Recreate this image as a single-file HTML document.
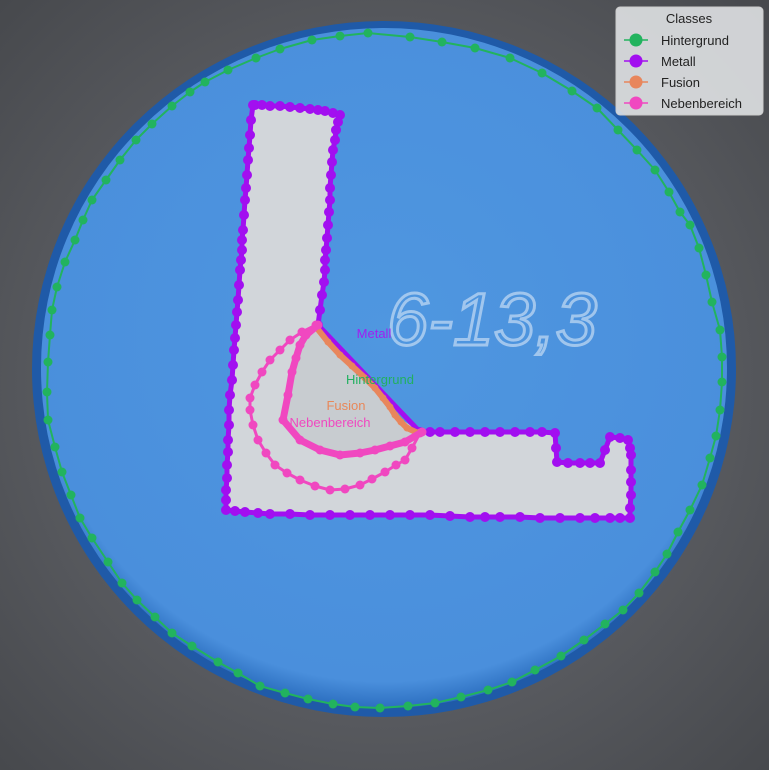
<!DOCTYPE html>
<html><head><meta charset="utf-8">
<style>
html,body{margin:0;padding:0;background:#4a4c50;}
svg{display:block;}
text{font-family:"Liberation Sans",sans-serif;}
</style></head>
<body>
<svg id="chart" width="769" height="770" viewBox="0 0 769 770">
<defs>
<radialGradient id="bg" cx="50%" cy="50%" r="75%">
<stop offset="0" stop-color="#72747a"/><stop offset="1" stop-color="#44464a"/>
</radialGradient>
<radialGradient id="disk" cx="50%" cy="45%" r="55%">
<stop offset="0" stop-color="#4f97e0"/><stop offset="0.93" stop-color="#4a8fdc"/><stop offset="1" stop-color="#2c6fc0"/>
</radialGradient>
</defs>
<rect x="0" y="0" width="769" height="770" fill="url(#bg)"/>
<ellipse cx="384" cy="369" rx="352" ry="348" fill="#1f5aa8"/>
<ellipse cx="384" cy="368" rx="343" ry="340" fill="url(#disk)"/>
<polygon points="253,103 340,113 332,140 328,200 324,270 318,325 330,345 360,375 395,415 420,432 555,432 556,462 602,463 610,436 630,438 632,470 630,518 540,518 430,516 330,515 226,510 228,440 232,380 238,300 242,230 248,160" fill="#d2d6da"/>
<polygon points="318,325 300,345 292,372 283,420 300,440 340,455 375,450 405,442 420,432 395,415 360,375" fill="#c8ccd0"/>
<text x="492" y="345" font-size="74" font-style="italic" fill="none" stroke="#c4dcf4" stroke-width="3" stroke-opacity="0.7" text-anchor="middle">6-13,3</text>
<g id="layers"></g>
<text x="374" y="338" font-size="13" fill="#a020f0" text-anchor="middle">Metall</text>
<text x="380" y="384" font-size="13" fill="#22b060" text-anchor="middle">Hintergrund</text>
<text x="346" y="410" font-size="13" fill="#e8885a" text-anchor="middle">Fusion</text>
<text x="330" y="427" font-size="13" fill="#f048c0" text-anchor="middle">Nebenbereich</text>
<g>
<rect x="616" y="7" width="147" height="108" rx="4" fill="#e8eaec" fill-opacity="0.85" stroke="#cccccc"/>
<text x="689" y="23" font-size="13" fill="#222" text-anchor="middle">Classes</text>
<g id="legend-entries"></g>
</g>
</svg>
<script>
const classNames = ["Hintergrund","Metall","Fusion","Nebenbereich"];
const classColors = ["#22b35e","#a20ff0","#e8865c","#f048c0"];
const hintergrundPoints = [[368,33],[410,37],[442,42],[475,48],[510,58],[542,73],[572,91],[597,108],[618,130],[637,150],[655,170],[669,192],[680,212],[690,225],[699,248],[706,275],[712,302],[720,330],[722,357],[722,382],[720,410],[716,436],[710,458],[702,485],[690,510],[678,532],[667,554],[655,572],[639,593],[623,610],[605,624],[584,640],[561,656],[535,670],[512,682],[488,690],[461,697],[435,703],[408,706],[380,708],[355,707],[333,704],[308,699],[285,693],[260,686],[238,673],[218,662],[192,646],[172,633],[155,617],[137,600],[122,583],[108,562],[92,538],[80,518],[71,495],[62,472],[55,447],[48,420],[47,392],[48,362],[50,335],[52,310],[57,287],[65,262],[75,240],[83,220],[92,200],[106,180],[120,160],[136,140],[152,124],[172,106],[190,92],[205,82],[228,70],[256,58],[280,49],[312,40],[340,36]];
const metallPoints = [[255,105],[262,105],[270,106],[280,106],[290,107],[300,108],[310,109],[318,110],[325,111],[333,113],[340,115],[338,122],[336,130],[335,140],[333,150],[332,162],[331,175],[330,188],[330,200],[329,212],[328,225],[327,238],[326,250],[325,260],[325,270],[324,282],[322,295],[320,310],[318,325],[420,432],[430,432],[440,432],[455,432],[470,432],[485,432],[500,432],[515,432],[530,432],[542,432],[555,433],[556,448],[557,462],[568,463],[580,463],[590,463],[600,463],[605,450],[610,437],[620,438],[628,440],[630,448],[631,455],[631,470],[631,482],[631,495],[630,508],[630,518],[620,518],[610,518],[595,518],[580,518],[560,518],[540,518],[520,517],[500,517],[485,517],[470,517],[450,516],[430,515],[410,515],[390,515],[370,515],[350,515],[330,515],[310,515],[290,514],[270,514],[258,513],[245,512],[235,511],[226,510],[226,500],[226,490],[227,478],[227,465],[228,452],[228,440],[229,425],[229,410],[230,395],[232,380],[233,365],[234,350],[235,338],[236,325],[237,312],[238,300],[239,285],[240,270],[241,260],[242,250],[242,240],[243,230],[244,215],[245,200],[246,188],[247,175],[248,160],[249,148],[250,135],[251,120],[253,105]];
const fusionPoints = [[316,327],[328,342],[340,355],[352,366],[365,378],[375,388],[383,398],[390,407],[395,415],[401,422],[407,428],[418,433]];
const nebenInnerPoints = [[318,325],[306,335],[300,345],[296,358],[292,372],[288,395],[283,420],[300,440],[320,450],[340,455],[360,453],[375,450],[390,446],[405,442],[422,432]];
const nebenOuterPoints = [[316,325],[302,332],[290,340],[280,350],[270,360],[262,372],[255,385],[250,398],[250,410],[253,425],[258,440],[266,453],[275,465],[287,473],[300,480],[315,486],[330,490],[345,489],[360,485],[372,479],[385,472],[396,465],[405,460],[412,448],[420,433]];

const ns = "http://www.w3.org/2000/svg";
const layers = document.getElementById("layers");
function ptsStr(p){return p.map(q=>q[0]+","+q[1]).join(" ");}
function drawSeries(points, color, closed, width, r, name){
  const g = document.createElementNS(ns,"g");
  
  
  const line = document.createElementNS(ns, closed ? "polygon" : "polyline");
  line.setAttribute("points", ptsStr(points));
  line.setAttribute("fill","none");
  line.setAttribute("stroke",color);
  line.setAttribute("stroke-width",width);
  line.setAttribute("stroke-linejoin","round");
  
  
  g.appendChild(line);
  points.forEach(p=>{
    const c = document.createElementNS(ns,"circle");
    c.setAttribute("cx",p[0]); c.setAttribute("cy",p[1]); c.setAttribute("r",r);
    c.setAttribute("fill",color);
    
    
    g.appendChild(c);
  });
  layers.appendChild(g);
}
drawSeries(hintergrundPoints, classColors[0], true, 2, 4.5, "hintergrund-polygon");
drawSeries(metallPoints, classColors[1], true, 5, 5, "metall-polygon");
drawSeries(nebenOuterPoints, classColors[3], false, 3, 4.5, "nebenbereich-outer");
drawSeries(fusionPoints, classColors[2], false, 6, 3.5, "fusion-polygon");
drawSeries(nebenInnerPoints, classColors[3], false, 7, 4.5, "nebenbereich-inner");

const le = document.getElementById("legend-entries");
classNames.forEach((n,i)=>{
  const y = 40 + i*21;
  const l = document.createElementNS(ns,"line");
  l.setAttribute("x1",624); l.setAttribute("x2",648); l.setAttribute("y1",y); l.setAttribute("y2",y);
  l.setAttribute("stroke",classColors[i]); l.setAttribute("stroke-width",1.5);
  
  
  le.appendChild(l);
  const c = document.createElementNS(ns,"circle");
  c.setAttribute("cx",636); c.setAttribute("cy",y); c.setAttribute("r",6.5); c.setAttribute("fill",classColors[i]);
  
  
  le.appendChild(c);
  const t = document.createElementNS(ns,"text");
  t.setAttribute("x",661); t.setAttribute("y",y+5); t.setAttribute("font-size",13); t.setAttribute("fill","#222");
  t.textContent = n;
  
  
  le.appendChild(t);
});
</script>
</body></html>
